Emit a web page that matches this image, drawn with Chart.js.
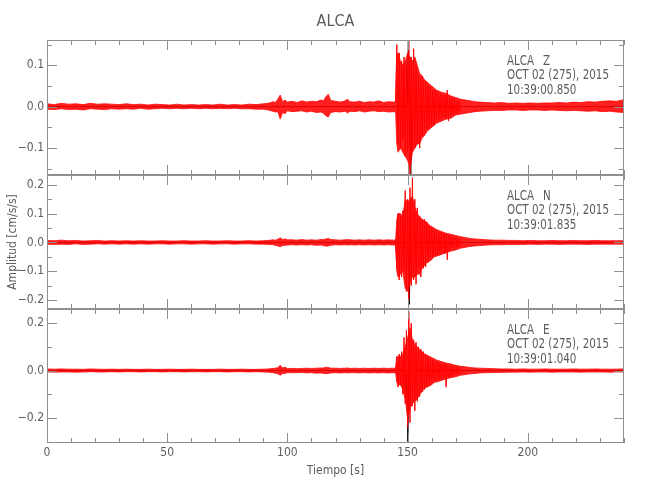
<!DOCTYPE html>
<html lang="es">
<head>
<meta charset="utf-8">
<title>ALCA</title>
<script src="https://cdn.jsdelivr.net/npm/chart.js@4.4.1/dist/chart.umd.min.js"></script>
<style>
  html, body { margin: 0; padding: 0; background: #fff; }
  #lienzo { position: relative; width: 650px; height: 500px; }
  #lienzo canvas { position: absolute; left: 0; top: 0; }
</style>
</head>
<body>
<div id="lienzo">
  <canvas id="panel-z" width="650" height="500"></canvas>
  <canvas id="panel-n" width="650" height="500"></canvas>
  <canvas id="panel-e" width="650" height="500"></canvas>
</div>
<script>
// ==========================================================
// DATOS: envolvente del ruido / sismo, picos de la fase S y
// la traza negra que asoma por debajo. Tiempo en segundos,
// amplitud en cm/s/s.
// ==========================================================
const tiempoEnv = [0, 3, 6, 9, 12, 15, 18, 21, 24, 27, 30, 33, 36, 39, 42, 45, 48, 51, 54, 57, 60, 63, 66, 69, 72, 75, 78, 81, 84, 87, 90,
  92, 94, 95, 96, 97, 98, 99, 100,
  102, 104, 106, 108, 110, 112, 114,
  115, 116, 117, 118,
  120, 122, 124,
  125, 126,
  128, 130, 132, 134, 136, 138, 140, 142, 144,
  145,
  145.5, 146, 147, 148, 149, 150, 151, 152, 153, 154, 155, 156, 157, 158, 159, 160, 161, 162,
  164, 166, 168, 170, 172, 174, 176, 178, 180,
  183, 186, 189, 192, 195, 198, 201, 204, 207, 210, 213, 216, 219, 222, 225, 228, 231, 234, 237, 240];

const zArriba = [.007, .005, .008, .006, .007, .005, .008, .006, .007, .006, .005, .007, .005, .006, .004, .006, .005, .004, .006, .004, .005, .004, .005, .004, .006, .004, .005, .004, .006, .005, .007,
  .008, .012, .010, .018, .028, .012, .016, .011,
  .013, .010, .014, .011, .013, .012, .016,
  .014, .024, .030, .015,
  .013, .011, .014,
  .018, .012,
  .011, .013, .010, .012, .011, .014, .010, .012, .011,
  .012,
  .12, .13, .11, .10, .11, .13, .12, .11, .12, .10, .08, .075, .065, .06, .055, .05, .045, .04,
  .035, .032, .026, .022, .018, .016, .014, .012, .011,
  .010, .009, .010, .008, .009, .008, .009, .008, .009, .009, .010, .009, .011, .010, .012, .011, .013, .014, .013, .017];
const zAbajo = [-.006, -.007, -.005, -.007, -.006, -.008, -.005, -.006, -.007, -.005, -.006, -.005, -.006, -.004, -.006, -.005, -.004, -.005, -.004, -.005, -.004, -.005, -.004, -.005, -.004, -.005, -.004, -.005, -.005, -.006, -.006,
  -.008, -.011, -.013, -.012, -.030, -.014, -.017, -.010,
  -.012, -.011, -.010, -.013, -.011, -.014, -.013,
  -.016, -.022, -.025, -.014,
  -.012, -.013, -.011,
  -.015, -.011,
  -.012, -.010, -.013, -.011, -.010, -.012, -.011, -.013, -.012,
  -.013,
  -.09, -.11, -.10, -.11, -.12, -.13, -.15, -.11, -.10, -.09, -.09, -.075, -.07, -.06, -.055, -.05, -.045, -.04,
  -.035, -.03, -.028, -.02, -.018, -.016, -.014, -.012, -.011,
  -.010, -.009, -.009, -.008, -.008, -.009, -.008, -.008, -.009, -.008, -.009, -.010, -.009, -.010, -.011, -.010, -.012, -.011, -.013, -.014];

const nArriba = [.007, .006, .008, .006, .007, .005, .006, .007, .005, .006, .005, .006, .005, .006, .005, .005, .006, .005, .005, .006, .005, .005, .006, .005, .005, .006, .005, .005, .006, .005, .006,
  .007, .009, .008, .011, .016, .010, .012, .009,
  .009, .008, .010, .008, .009, .008, .010,
  .010, .012, .014, .010,
  .009, .008, .009,
  .010, .009,
  .008, .009, .008, .009, .008, .009, .008, .009, .008,
  .009,
  .08, .10, .10, .09, .15, .14, .15, .16, .12, .10, .09, .08, .075, .07, .06, .055, .05, .045,
  .038, .032, .028, .024, .02, .017, .014, .012, .011,
  .009, .008, .008, .007, .007, .006, .007, .006, .006, .007, .006, .006, .007, .006, .006, .007, .006, .006, .006, .006];
const nAbajo = [-.006, -.007, -.006, -.007, -.005, -.007, -.006, -.005, -.006, -.005, -.006, -.005, -.006, -.005, -.006, -.005, -.005, -.006, -.005, -.005, -.006, -.005, -.005, -.006, -.005, -.005, -.006, -.005, -.005, -.006, -.006,
  -.007, -.008, -.010, -.012, -.015, -.011, -.010, -.009,
  -.008, -.009, -.008, -.009, -.008, -.010, -.009,
  -.011, -.013, -.012, -.010,
  -.008, -.009, -.008,
  -.009, -.008,
  -.009, -.008, -.009, -.008, -.009, -.008, -.009, -.008, -.009,
  -.009,
  -.10, -.12, -.11, -.10, -.16, -.17, -.14, -.12, -.12, -.11, -.11, -.09, -.08, -.07, -.065, -.06, -.05, -.048,
  -.042, -.035, -.03, -.026, -.02, -.017, -.014, -.012, -.011,
  -.009, -.008, -.008, -.007, -.007, -.007, -.006, -.007, -.006, -.006, -.007, -.006, -.006, -.006, -.007, -.006, -.006, -.006, -.006, -.006];

const eArriba = [.007, .006, .007, .006, .006, .005, .007, .006, .005, .006, .005, .006, .005, .005, .006, .005, .005, .006, .005, .005, .006, .005, .005, .005, .006, .005, .005, .006, .005, .005, .006,
  .007, .009, .010, .012, .022, .011, .014, .009,
  .009, .008, .009, .010, .009, .010, .011,
  .011, .014, .013, .010,
  .010, .009, .010,
  .011, .009,
  .010, .009, .010, .009, .010, .009, .010, .009, .010,
  .010,
  .05, .06, .06, .07, .10, .14, .18, .13, .11, .10, .09, .08, .07, .065, .06, .055, .05, .045,
  .038, .032, .028, .022, .018, .016, .013, .011, .010,
  .009, .008, .007, .007, .006, .007, .006, .006, .007, .006, .006, .006, .007, .006, .006, .007, .006, .006, .006, .007];
const eAbajo = [-.006, -.007, -.006, -.006, -.007, -.006, -.005, -.006, -.006, -.005, -.006, -.005, -.005, -.006, -.005, -.005, -.006, -.005, -.005, -.006, -.005, -.005, -.006, -.005, -.005, -.006, -.005, -.005, -.006, -.005, -.006,
  -.007, -.009, -.011, -.013, -.020, -.012, -.012, -.009,
  -.009, -.009, -.008, -.010, -.009, -.011, -.010,
  -.012, -.013, -.012, -.010,
  -.009, -.010, -.009,
  -.010, -.009,
  -.009, -.010, -.009, -.010, -.009, -.010, -.009, -.010, -.009,
  -.010,
  -.05, -.06, -.06, -.08, -.12, -.20, -.16, -.14, -.13, -.12, -.10, -.09, -.075, -.07, -.065, -.06, -.05, -.048,
  -.042, -.035, -.03, -.026, -.02, -.017, -.014, -.012, -.010,
  -.009, -.008, -.008, -.007, -.007, -.006, -.007, -.006, -.006, -.007, -.006, -.006, -.006, -.007, -.006, -.006, -.006, -.007, -.006, -.006];

// picos del tren de ondas (145 s a 172 s)
const tiempoPicos = [145.0, 145.5, 146.0, 146.5, 147.0, 147.5, 148.0, 148.5, 149.0, 149.5,
  150.0, 150.5, 151.0, 151.5, 152.0, 152.5, 153.0, 153.5, 154.0, 154.5,
  155.0, 155.5, 156.0, 156.5, 157.0, 157.5, 158.0, 158.5, 159.0, 159.5,
  160.0, 160.5, 161.0, 161.5, 162.0, 162.5, 163.0, 163.5, 164.0, 164.5,
  165.0, 165.5, 166.0, 166.5, 167.0, 167.5, 168.0, 168.5, 169.0, 169.5,
  170.0, 170.5, 171.0, 171.5, 172.0];
const zPicos = [.01, .15, -.09, .13, -.10, .11, -.08, .12, -.12, .10,
  -.11, .16, -.165, .12, -.11, .14, -.10, .10, -.09, .08,
  -.10, .07, -.07, .065, -.06, .06, -.055, .05, -.05, .05,
  -.045, .04, -.045, .04, -.035, .035, -.03, .03, -.03, .028,
  -.025, .03, -.03, .04, -.035, .025, -.02, .02, -.02, .018,
  -.018, .015, -.015, .014, -.012];
const nPicos = [.01, -.09, .10, -.13, .09, -.12, .11, -.10, .18, -.17,
  .15, -.20, .19, -.15, .225, -.13, .15, -.145, .12, -.10,
  .09, -.12, .08, -.09, .08, -.085, .07, -.07, .06, -.055,
  .05, -.05, .045, -.045, .04, -.045, .035, -.04, .035, -.035,
  .03, -.04, .03, -.06, .025, -.03, .022, -.02, .02, -.02,
  .018, -.017, .015, -.015, .012];
const ePicos = [-.01, .06, -.07, .07, -.06, .08, -.10, .14, -.14, .17,
  -.24, .25, -.22, .20, -.15, .13, -.17, .12, -.13, .10,
  -.11, .09, -.09, .08, -.08, .07, -.07, .06, -.06, .05,
  -.05, .045, -.045, .04, -.04, .035, -.04, .03, -.035, .03,
  -.03, .03, -.07, .025, -.03, .02, -.025, .02, -.02, .018,
  -.018, .015, -.015, .013, -.012];

// traza negra (solo se ve en los picos mayores)
const zNegroT = [0, 149.8, 150.3, 150.8, 151.3, 151.8, 240];
const zNegro = [0, 0, .16, -.04, -.165, 0, 0];
const nNegroT = [0, 150.1, 150.7, 151.2, 240];
const nNegro = [0, 0, -.215, 0, 0];
const eNegroT = [0, 149.6, 150.1, 150.6, 151.1, 240];
const eNegro = [0, 0, -.30, .05, 0, 0];

// ejes
const etiquetasTiempo = [0, 50, 100, 150, 200];
const menoresTiempo = [10, 20, 30, 40, 60, 70, 80, 90, 110, 120, 130, 140, 160, 170, 180, 190, 210, 220, 230, 240];
const etiquetasZ = [-0.1, 0, 0.1];
const menoresZ = [-0.15, -0.05, 0.05, 0.15];
const etiquetasN = [-0.2, -0.1, 0, 0.1, 0.2];
const menoresN = [-0.15, -0.05, 0.05, 0.15];
const etiquetasE = [-0.2, 0, 0.2];
const menoresE = [-0.3, -0.1, 0.1];

// ==========================================================
// ESTILO
// ==========================================================
const ROJO = '#ff0000';
const GRIS = '#8f8f8f';
const TEXTO = '#5c5c5c';
const FUENTE = '"Liberation Sans Narrow", "DejaVu Sans Condensed", sans-serif';

Chart.defaults.font.family = FUENTE;
Chart.defaults.color = TEXTO;

const pares = (xs, ys) => xs.map((x, i) => ({ x: x, y: ys[i] }));
const formatoY = v => (v < 0 ? '\u2212' : '') + Math.abs(v).toFixed(1);

// marco estilo IDL: caja completa y marcas hacia dentro
const marcoIDL = {
    id: 'marcoIDL',
    afterDatasetsDraw(chart, args, opts) {
        const { ctx, chartArea: a, scales } = chart;
        ctx.save();
        ctx.strokeStyle = GRIS;
        ctx.lineWidth = 1;
        ctx.strokeRect(a.left + 0.5, a.top + 0.5, a.right - a.left - 1, a.bottom - a.top - 1);

        const raya = (x1, y1, x2, y2) => {
            ctx.beginPath(); ctx.moveTo(x1, y1); ctx.lineTo(x2, y2); ctx.stroke();
        };
        const marcasX = (vals, largo) => vals.forEach(v => {
            const px = Math.round(scales.x.getPixelForValue(v)) + 0.5;
            raya(px, a.top, px, a.top + largo);
            raya(px, a.bottom, px, a.bottom - largo);
        });
        const marcasY = (vals, largo) => vals.forEach(v => {
            const py = Math.round(scales.y.getPixelForValue(v)) + 0.5;
            raya(a.left, py, a.left + largo, py);
            raya(a.right, py, a.right - largo, py);
        });
        marcasX(etiquetasTiempo, 10);
        marcasX(menoresTiempo, 5);
        marcasY(opts.mayores, 10);
        marcasY(opts.menores, 5);

        // rótulo de la estación (letra estrecha, como la del original)
        ctx.fillStyle = TEXTO;
        ctx.font = '14px ' + FUENTE;
        ctx.textBaseline = 'middle';
        ctx.textAlign = 'left';
        const linea = (texto, x, y) => {
            ctx.save();
            ctx.translate(x, y);
            ctx.scale(0.82, 1);
            ctx.fillText(texto, 0, 0);
            ctx.restore();
        };
        linea('ALCA', 507, a.top + 21);
        linea(opts.componente, 543, a.top + 21);
        linea('OCT 02 (275), 2015', 507, a.top + 35);
        linea(opts.hora, 507, a.top + 50);
        ctx.restore();
    }
};

function crearPanel(id, p) {
    return new Chart(document.getElementById(id), {
        type: 'line',
        data: {
            datasets: [
                { data: pares(tiempoPicos, p.picos), borderColor: ROJO, borderWidth: 1 },
                { data: pares(tiempoEnv, p.arriba), borderColor: 'rgba(255,0,0,0.75)', borderWidth: 1, fill: false },
                { data: pares(tiempoEnv, p.abajo), borderColor: 'rgba(255,0,0,0.75)', borderWidth: 1, fill: '-1', backgroundColor: 'rgba(255,0,0,0.88)' },
                { data: pares(p.negroT, p.negro), borderColor: '#000', borderWidth: 1 }
            ]
        },
        options: {
            responsive: false,
            animation: false,
            events: [],
            layout: { padding: p.relleno },
            elements: { point: { radius: 0 }, line: { tension: 0 } },
            plugins: {
                legend: { display: false },
                tooltip: { enabled: false },
                title: p.titulo || { display: false },
                marcoIDL: { mayores: p.mayores, menores: p.menores, componente: p.componente, hora: p.hora }
            },
            scales: {
                x: {
                    type: 'linear',
                    min: 0,
                    max: 240,
                    display: p.conEjeX,
                    afterBuildTicks: s => { s.ticks = etiquetasTiempo.map(v => ({ value: v })); },
                    afterFit: s => { if (p.conEjeX) s.height = 57; },
                    grid: { display: false, drawTicks: false },
                    border: { display: false },
                    ticks: { padding: 3, maxRotation: 0, autoSkip: false, font: { size: 12 } },
                    title: { display: true, text: 'Tiempo [s]', font: { size: 12 }, padding: { top: 0, bottom: 22 } }
                },
                y: {
                    min: p.min,
                    max: p.max,
                    afterBuildTicks: s => { s.ticks = p.mayores.map(v => ({ value: v })); },
                    afterFit: s => { s.width = 47; },
                    grid: { display: false, drawTicks: false },
                    border: { display: false },
                    ticks: { padding: 3, autoSkip: false, font: { size: 12 }, callback: formatoY },
                    title: { display: !!p.tituloY, text: p.tituloY || '', font: { size: 12 }, padding: { top: 6, bottom: 0 } }
                }
            }
        },
        plugins: [marcoIDL]
    });
}

crearPanel('panel-z', {
    arriba: zArriba, abajo: zAbajo, picos: zPicos, negroT: zNegroT, negro: zNegro,
    min: -0.165, max: 0.161, mayores: etiquetasZ, menores: menoresZ,
    componente: 'Z', hora: '10:39:00.850',
    relleno: { top: 0, bottom: 325, left: 0, right: 26 },
    conEjeX: false,
    // fullSize false: el título se centra sobre el área del gráfico
    titulo: { display: true, fullSize: false, text: 'ALCA', color: TEXTO, font: { size: 16, weight: 'normal' }, padding: { top: 12, bottom: 8.8 } }
});

crearPanel('panel-n', {
    arriba: nArriba, abajo: nAbajo, picos: nPicos, negroT: nNegroT, negro: nNegro,
    min: -0.231, max: 0.234, mayores: etiquetasN, menores: menoresN,
    componente: 'N', hora: '10:39:01.835',
    relleno: { top: 175, bottom: 191, left: 0, right: 26 },
    conEjeX: false,
    tituloY: 'Amplitud [cm/s/s]'
});

crearPanel('panel-e', {
    arriba: eArriba, abajo: eAbajo, picos: ePicos, negroT: eNegroT, negro: eNegro,
    min: -0.306, max: 0.26, mayores: etiquetasE, menores: menoresE,
    componente: 'E', hora: '10:39:01.040',
    relleno: { top: 309, bottom: 0, left: 0, right: 26 },
    conEjeX: true
});
</script>
</body>
</html>
